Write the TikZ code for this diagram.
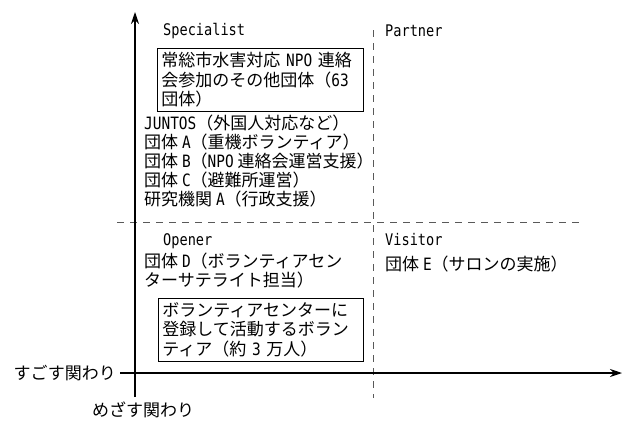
\documentclass[tikz,border=0pt]{standalone}
\usepackage{fontspec}
\setmainfont{Noto Sans CJK JP}
\newfontfamily\latmono[FakeStretch=0.85]{DejaVu Sans Mono}
\newcommand{\lt}[1]{{\latmono #1}}
\usetikzlibrary{arrows.meta}
\begin{document}
\begin{tikzpicture}[x=1pt,y=-1pt,
  jp/.style={font=\fontsize{17}{19}\selectfont, inner sep=0pt, align=left},
  lab/.style={font=\latmono\fontsize{16}{18}\selectfont, inner sep=0pt, anchor=west},
  framebox/.style={draw, line width=0.9pt, inner sep=4pt, align=left, anchor=north west,
    font=\fontsize{17}{19.5}\selectfont},
  axis/.style={line width=1.1pt, -{Stealth[length=12pt,width=8pt]}},
  divider/.style={line width=0.6pt, gray!70!black, dash pattern=on 7pt off 6pt}]
\useasboundingbox (0,0) rectangle (624,421);
% axes
\coordinate (ybot) at (135,397);
\coordinate (ytop) at (135,12);
\coordinate (xl) at (120,373);
\coordinate (xr) at (622,373);
\coordinate (dv1) at (373,30);
\coordinate (dv2) at (373,398);
\coordinate (dh1) at (117,222);
\coordinate (dh2) at (582,222);
\draw[divider] (dv1) -- (dv2);
\draw[divider] (dh1) -- (dh2);
\draw[axis] (ybot) -- (ytop);
\draw[axis] (xl) -- (xr);
% quadrant labels
\node[lab] (spec) at (163,31) {Specialist};
\node[lab] (part) at (385,31) {Partner};
\node[lab] (open) at (163,241) {Opener};
\node[lab] (visi) at (385,240) {Visitor};
% boxes
\node[framebox, text width=198pt] (box1) at (157,48)
  {常総市水害対応 \lt{NPO} 連絡\\会参加のその他団体（\lt{63}\\団体）};
\node[framebox, text width=197pt] (box2) at (158,298)
  {ボランティアセンターに\\登録して活動するボラン\\ティア（約 \lt{3} 万人）};
% lists
\node[jp, anchor=north west] (list) at (144,115)
  {\lt{JUNTOS}（外国人対応など）\\団体 \lt{A}（重機ボランティア）\\団体 \lt{B}（\lt{NPO} 連絡会運営支援）\\団体 \lt{C}（避難所運営）\\研究機関 \lt{A}（行政支援）};
\node[jp, anchor=north west] (grpd) at (144,253)
  {団体 \lt{D}（ボランティアセン\\ターサテライト担当）};
\node[jp, anchor=north west] (grpe) at (385,256) {団体 \lt{E}（サロンの実施）};
% axis labels
\node[jp, anchor=east] (xlab) at (116,373) {すごす関わり};
\node[jp, anchor=west] (ylab) at (92,410) {めざす関わり};
\end{tikzpicture}
\end{document}
